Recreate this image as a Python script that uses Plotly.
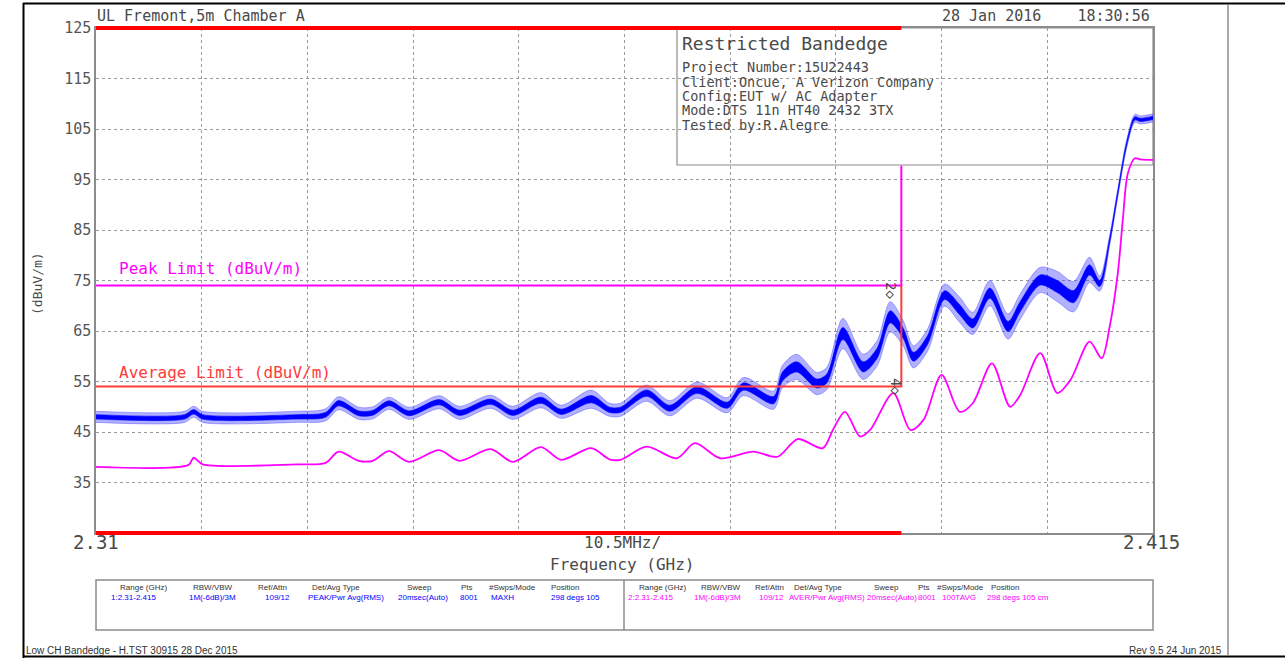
import plotly.graph_objects as go

# ---------------- data ----------------
F_START, F_STOP = 2.31, 2.415
LEVEL_MIN, LEVEL_MAX = 25, 125
y_tick_values = [35, 45, 55, 65, 75, 85, 95, 105, 115, 125]
x_grid_freqs = [2.3205, 2.331, 2.3415, 2.352, 2.3625, 2.373, 2.3835, 2.394, 2.4045]

restricted_edge = 2.39          # GHz
peak_limit = 74                 # dBuV/m
average_limit = 54              # dBuV/m

# Average (magenta) trace
avg_freq = [2.3100, 2.3192, 2.3197, 2.3206, 2.3299, 2.3328, 2.3341, 2.3361, 2.3375, 2.3391,
            2.3411, 2.3441, 2.3461, 2.3492, 2.3514, 2.3542, 2.3562, 2.3592, 2.3610, 2.3621,
            2.3647, 2.3677, 2.3695, 2.3720, 2.3753, 2.3777, 2.3797, 2.3822, 2.3832, 2.3844,
            2.3859, 2.3869, 2.3892, 2.3909, 2.3922, 2.3940, 2.3958, 2.3971, 2.3990, 2.4008,
            2.4018, 2.4038, 2.4055, 2.4068, 2.4087, 2.4099, 2.4107, 2.4115, 2.4120, 2.4125,
            2.4132, 2.4137, 2.4150]
avg_level = [38.1, 38.5, 39.9, 38.6, 38.6, 38.9, 41.1, 39.3, 39.3, 41.2,
             39.1, 41.4, 39.3, 41.6, 39.1, 42.0, 39.5, 41.8, 39.6, 39.5,
             42.1, 39.8, 42.8, 39.8, 41.1, 40.1, 43.6, 41.8, 45.4, 49.0,
             44.1, 45.4, 52.7, 45.4, 47.4, 56.3, 49.0, 50.7, 58.6, 50.0,
             52.3, 60.6, 52.7, 55.3, 62.9, 59.6, 65.9, 76.4, 87.0, 96.2,
             99.2, 99.0, 98.9]

# Peak (blue) trace: centre level and noise half-spread
peak_freq = [2.3100, 2.3188, 2.3197, 2.3206, 2.3299, 2.3328, 2.3341, 2.3361, 2.3375, 2.3391,
             2.3411, 2.3441, 2.3461, 2.3492, 2.3514, 2.3542, 2.3562, 2.3592, 2.3610, 2.3621,
             2.3647, 2.3670, 2.3697, 2.3727, 2.3743, 2.3773, 2.3782, 2.3796, 2.3816, 2.3826,
             2.3842, 2.3862, 2.3876, 2.3889, 2.3902, 2.3912, 2.3926, 2.3943, 2.3958, 2.3971,
             2.3988, 2.4006, 2.4018, 2.4038, 2.4055, 2.4071, 2.4087, 2.4097, 2.4107, 2.4115,
             2.4124, 2.4132, 2.4137, 2.4150]
peak_level = [48.0, 48.0, 49.0, 48.0, 48.0, 48.4, 50.7, 48.7, 48.8, 50.7,
              48.7, 50.9, 48.8, 51.0, 48.8, 51.3, 49.0, 51.5, 49.4, 49.4,
              52.7, 49.7, 53.3, 50.3, 54.0, 51.3, 56.0, 57.9, 54.6, 55.6,
              64.5, 57.9, 60.6, 67.8, 64.5, 59.9, 63.2, 72.1, 69.2, 66.5,
              72.5, 65.9, 69.8, 75.1, 73.8, 71.8, 77.1, 74.4, 83.0, 92.3,
              102.2, 107.1, 106.8, 107.2]
peak_spread = [1.1, 1.1, 1.1, 1.1, 1.1, 1.2, 1.3, 1.2, 1.2, 1.2,
               1.2, 1.3, 1.3, 1.3, 1.3, 1.5, 1.3, 1.8, 1.3, 1.3,
               1.6, 1.5, 1.6, 1.5, 1.8, 1.8, 2.2, 2.5, 2.2, 2.2,
               3.0, 2.5, 2.5, 3.0, 2.5, 2.2, 2.2, 2.2, 2.5, 2.2,
               2.5, 2.5, 2.5, 2.5, 3.0, 3.0, 2.5, 1.5, 1.0, 0.8,
               0.8, 0.8, 0.8, 0.8]

# ---------------- figure ----------------
L, R, T, B = 96, 1153, 28, 533   # plot-area pixel box
W, H = 1285, 658

def px(x):
    return (x - L) / (R - L)

def py(y):
    return (B - y) / (B - T)

def fpaper(f):
    return (f - F_START) / (F_STOP - F_START)

MONO = "DejaVu Sans Mono"
SMALL = "Liberation Sans"
GRAY = "#4a4a4a"

fig = go.Figure()

# Peak trace: light outer band, solid inner band
up = [c + s for c, s in zip(peak_level, peak_spread)]
lo = [c - s for c, s in zip(peak_level, peak_spread)]
up_in = [c + 0.4 * s for c, s in zip(peak_level, peak_spread)]
lo_in = [c - 0.4 * s for c, s in zip(peak_level, peak_spread)]
sm = dict(shape="spline", smoothing=0.85)
fig.add_trace(go.Scatter(x=peak_freq, y=lo, mode="lines",
                         line=dict(color="rgba(60,60,255,0.5)", width=0.8, **sm),
                         hoverinfo="skip", showlegend=False))
fig.add_trace(go.Scatter(x=peak_freq, y=up, mode="lines", fill="tonexty",
                         fillcolor="rgba(60,60,255,0.4)",
                         line=dict(color="rgba(60,60,255,0.5)", width=0.8, **sm),
                         hoverinfo="skip", showlegend=False))
fig.add_trace(go.Scatter(x=peak_freq, y=lo_in, mode="lines",
                         line=dict(color="#0000ff", width=0.6, **sm),
                         hoverinfo="skip", showlegend=False))
fig.add_trace(go.Scatter(x=peak_freq, y=up_in, mode="lines", fill="tonexty",
                         fillcolor="#0000ff",
                         line=dict(color="#0000ff", width=0.6, **sm),
                         hoverinfo="skip", showlegend=False))

# Average trace
fig.add_trace(go.Scatter(x=avg_freq, y=avg_level, mode="lines",
                         line=dict(color="#ff00ff", width=1.8, **sm),
                         showlegend=False))

# Limit lines
fig.add_trace(go.Scatter(x=[F_START, restricted_edge, restricted_edge],
                         y=[peak_limit, peak_limit, 97.7], mode="lines",
                         line=dict(color="#ff00ff", width=2), showlegend=False))
fig.add_trace(go.Scatter(x=[F_START, restricted_edge, restricted_edge],
                         y=[average_limit, average_limit, peak_limit], mode="lines",
                         line=dict(color="#ff3b3b", width=2), showlegend=False))

shapes = []
# info box (white, over gridlines, under traces)
shapes.append(dict(type="rect", xref="paper", yref="paper", x0=px(677), x1=1.0,
                   y0=py(165), y1=1.0, layer="between",
                   fillcolor="white", line=dict(color="#8c8c8c", width=1.2)))
# restricted band thick red lines at top and bottom
for yv in (0.0, 1.0):
    shapes.append(dict(type="line", xref="paper", yref="paper",
                       x0=0, x1=fpaper(restricted_edge), y0=yv, y1=yv,
                       line=dict(color="#ff0000", width=4), layer="above"))
# outer frame
shapes.append(dict(type="line", xref="paper", yref="paper", x0=px(23.5), x1=px(23.5),
                   y0=py(3), y1=py(658), line=dict(color="black", width=2)))
shapes.append(dict(type="line", xref="paper", yref="paper", x0=px(23), x1=px(1285),
                   y0=py(3.5), y1=py(3.5), line=dict(color="black", width=2)))
shapes.append(dict(type="line", xref="paper", yref="paper", x0=px(23), x1=px(1285),
                   y0=py(656.5), y1=py(656.5), line=dict(color="black", width=2)))
shapes.append(dict(type="line", xref="paper", yref="paper", x0=px(1228), x1=px(1228),
                   y0=py(4), y1=py(656), line=dict(color="#8c8c8c", width=1.5)))
# bottom settings table
shapes.append(dict(type="rect", xref="paper", yref="paper", x0=0, x1=1,
                   y0=py(630), y1=py(580), line=dict(color="#8c8c8c", width=1.5)))
shapes.append(dict(type="line", xref="paper", yref="paper", x0=px(624), x1=px(624),
                   y0=py(630), y1=py(580), line=dict(color="#8c8c8c", width=1.5)))

ann = []
def text(x, y, s, size=14, color=GRAY, family=MONO, xanchor="left", angle=0):
    ann.append(dict(xref="paper", yref="paper", x=px(x), y=py(y), text=s, showarrow=False,
                    xanchor=xanchor, yanchor="middle", textangle=angle,
                    font=dict(family=family, size=size, color=color)))

text(95, 16, "UL Fremont,5m Chamber A", 15)
text(1152, 16, "28 Jan 2016&nbsp;&nbsp;&nbsp;&nbsp;18:30:56", 15, xanchor="right")
text(680, 43, "Restricted Bandedge", 18)
box_lines = ["Project Number:15U22443", "Client:Oncue, A Verizon Company",
             "Config:EUT w/ AC Adapter", "Mode:DTS 11n HT40 2432 3TX", "Tested by:R.Alegre"]
for i, s in enumerate(box_lines):
    text(680, 67.5 + i * 14.3, s, 13.5)
text(117, 268, "Peak Limit (dBuV/m)", 16, color="#ff00ff")
text(117, 373, "Average Limit (dBuV/m)", 16, color="#ff3b3b")
text(96, 542, "2.31", 19, xanchor="center")
text(1151, 542, "2.415", 19, xanchor="center")
text(622, 542, "10.5MHz/", 16, xanchor="center")
text(622, 564, "Frequency (GHz)", 16, xanchor="center")
text(37, 284, "(dBuV/m)", 13, angle=-90, xanchor="center")
text(891, 290, "2◇", 14, angle=90, xanchor="center")
text(896, 386, "4◇", 14, angle=90, xanchor="center")

# settings table
hdr = ["Range (GHz)", "RBW/VBW", "Ref/Attn", "Det/Avg Type", "Sweep", "Pts", "#Swps/Mode", "Position"]
row1 = ["1:2.31-2.415", "1M(-6dB)/3M", "109/12", "PEAK/Pwr Avg(RMS)", "20msec(Auto)", "8001", "MAXH", "298 degs 105"]
row2 = ["2:2.31-2.415", "1M(-6dB)/3M", "109/12", "AVER/Pwr Avg(RMS)", "20msec(Auto)", "8001", "100TAVG", "298 degs 105 cm"]
hx1 = [143, 213, 272, 336, 419, 467, 512, 565]
vx1 = [133, 212, 277, 346, 423, 469, 502, 575]
hx2 = [662, 721, 769, 818, 886, 924, 961, 1005]
vx2 = [650, 717, 771, 827, 892, 927, 959, 1018]
for i in range(8):
    text(hx1[i], 587, hdr[i], 8, color="#333333", family=SMALL, xanchor="center")
    text(vx1[i], 597.5, row1[i], 8, color="#0000ff", family=SMALL, xanchor="center")
    text(hx2[i], 587, hdr[i], 8, color="#333333", family=SMALL, xanchor="center")
    text(vx2[i], 597.5, row2[i], 8, color="#ff00ff", family=SMALL, xanchor="center")

text(24, 650, "Low CH Bandedge - H.TST 30915 28 Dec 2015", 10, color="#333333", family=SMALL)
text(1224, 650, "Rev 9.5 24 Jun 2015", 10, color="#333333", family=SMALL, xanchor="right")

fig.update_layout(
    width=W, height=H,
    margin=dict(l=L, r=W - R, t=T, b=H - B, pad=0),
    paper_bgcolor="white", plot_bgcolor="white",
    showlegend=False,
    shapes=shapes, annotations=ann,
    xaxis=dict(range=[F_START, F_STOP], showticklabels=False, ticks="",
               tickvals=x_grid_freqs, showgrid=True, gridcolor="#9a9a9a",
               griddash="dot", gridwidth=1, zeroline=False,
               showline=True, linecolor="#8c8c8c", linewidth=1.5, mirror=True),
    yaxis=dict(range=[LEVEL_MIN, LEVEL_MAX], tickvals=y_tick_values,
               ticktext=[str(v) for v in y_tick_values], ticks="",
               tickfont=dict(family=MONO, size=15, color="#555555"),
               showgrid=True, gridcolor="#9a9a9a", griddash="dot", gridwidth=1,
               zeroline=False, showline=True, linecolor="#8c8c8c", linewidth=1.5, mirror=True),
)

fig.write_html("out.html", config={"displayModeBar": False},
               post_script="document.body.style.margin='0px';")
